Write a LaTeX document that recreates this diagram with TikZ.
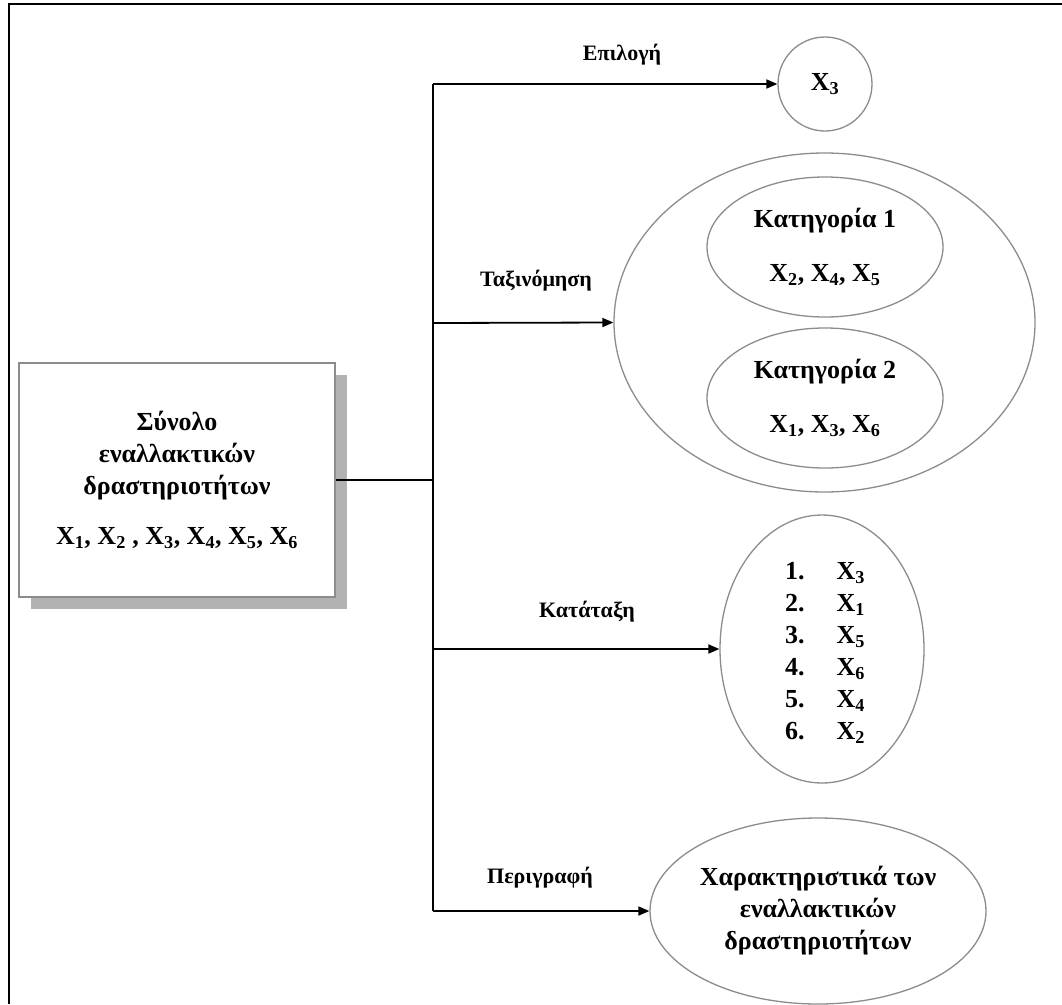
\documentclass[tikz,border=0pt]{standalone}
\usepackage{fontspec}
\setmainfont{Liberation Serif}
\usetikzlibrary{arrows.meta,shapes.geometric,shadows}
\definecolor{rim}{HTML}{8C8C8C}
\definecolor{shadowgray}{HTML}{B2B2B2}
% X with a numeric subscript
\newcommand{\xsub}[1]{X\textsubscript{#1}}
\begin{document}
\begin{tikzpicture}[x=1pt,y=-1pt,
  big/.style={font=\fontsize{26}{32}\selectfont\bfseries},
  lab/.style={font=\fontsize{22}{26}\selectfont\bfseries, inner sep=0pt},
  oval/.style={ellipse, draw=rim, line width=1.3pt, inner sep=0pt},
  link/.style={line width=1.8pt, draw=black},
  arr/.style={link, -{Triangle[length=11pt,width=9pt]}}]
\useasboundingbox (0,0) rectangle (1062,1004);
\fill[white] (0,0) rectangle (1062,1004);
% page frame
\draw[line width=2.2pt] (9,1004) -- (9,4) -- (1062,4);

% set of alternatives
\node[draw=rim, line width=2pt, fill=white, minimum width=316pt, minimum height=234pt,
      big, align=center,
      drop shadow={shadow xshift=12pt, shadow yshift=-12pt, fill=shadowgray, opacity=1}]
  (set) at (177,480)
  {Σύνολο\\εναλλακτικών\\δραστηριοτήτων\\[18pt]\xsub{1}, \xsub{2} , \xsub{3}, \xsub{4}, \xsub{5}, \xsub{6}};

% choice
\node[circle, draw=rim, line width=1.3pt, minimum size=94pt, inner sep=0pt, big] (pick) at (825,84) {\xsub{3}};

% classification
\node[oval, minimum width=421pt, minimum height=339pt] (sort) at (824.5,322.5) {};
\node[oval, minimum width=236pt, minimum height=140pt, big, align=center] (cat1) at (825,247)
  {Κατηγορία 1\\[22pt]\xsub{2}, \xsub{4}, \xsub{5}};
\node[oval, minimum width=236pt, minimum height=140pt, big, align=center] (cat2) at (825,398)
  {Κατηγορία 2\\[22pt]\xsub{1}, \xsub{3}, \xsub{6}};

% ranking
\node[oval, minimum width=204pt, minimum height=268pt] (rank) at (822,649) {};
\node[big, inner sep=0pt] (ranklist) at (825,653)
  {\begin{tabular}{@{}l@{\hspace{32pt}}l@{}}
    1. & \xsub{3}\\
    2. & \xsub{1}\\
    3. & \xsub{5}\\
    4. & \xsub{6}\\
    5. & \xsub{4}\\
    6. & \xsub{2}
   \end{tabular}};

% description
\node[oval, minimum width=336pt, minimum height=186pt, big, align=center] (desc) at (818,911)
  {Χαρακτηριστικά των\\εναλλακτικών\\δραστηριοτήτων};

% junctions on the distribution line
\coordinate (j0) at (433,480);
\coordinate (j1) at (433,84);
\coordinate (j2) at (433,323);
\coordinate (j3) at (433,649);
\coordinate (j4) at (433,911);

\draw[link] (set.east) -- (j0);
\draw[link] (j1) -- (j4);
\draw[arr] (j1) -- (pick.west);
\draw[arr] (j2) -- (sort.west);
\draw[arr] (j3) -- (rank.west);
\draw[arr] (j4) -- (desc.west);

% branch labels
\node[lab] (l1) at (622,55) {Επιλογή};
\node[lab] (l2) at (536,281) {Ταξινόμηση};
\node[lab] (l3) at (587,612) {Κατάταξη};
\node[lab] (l4) at (540,878) {Περιγραφή};
\end{tikzpicture}
\end{document}
